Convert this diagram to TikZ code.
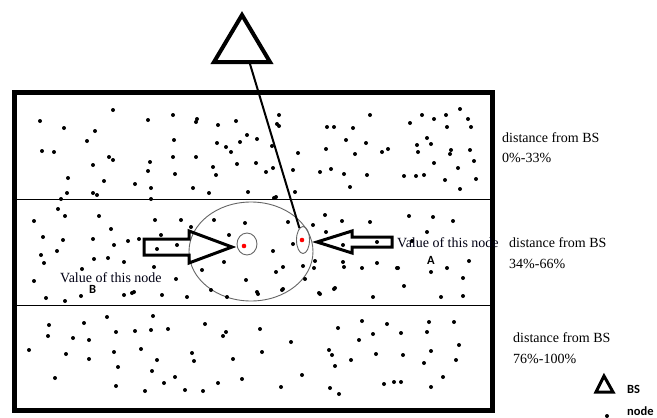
\documentclass[tikz,border=0pt]{standalone}
\usepackage{fontspec}
\setmainfont{Liberation Serif}
\newfontfamily\legendfont{Carlito}
\usetikzlibrary{shapes.geometric}
\begin{document}
\begin{tikzpicture}[x=1pt,y=-1pt,
  frame/.style={line width=5pt},
  bandline/.style={line width=0.9pt},
  bstri/.style={line width=4pt, line join=miter},
  blockarrow/.style={line width=3pt, line join=miter},
  ring/.style={draw=black!60, line width=0.9pt},
  rangelbl/.style={font=\fontsize{14}{16}\selectfont, anchor=base west, inner sep=0pt},
  vallbl/.style={font=\fontsize{14}{16}\selectfont, anchor=base west, inner sep=0pt, text=black!92!blue},
  smallbold/.style={font=\legendfont\bfseries\fontsize{12.5}{14}\selectfont, anchor=base west, inner sep=0pt},
  conn/.style={line width=2pt}
]
\useasboundingbox (0,0) rectangle (657,418);
\fill[white] (0,0) rectangle (657,418);

% field
\draw[frame] (14,92) rectangle (492,410);
\draw[bandline] (16,199) -- (490,199);
\draw[bandline] (16,305) -- (490,305);

% cluster
\draw[ring] (251,251.5) ellipse [x radius=62pt, y radius=49.5pt];
\draw[ring] (247,244) ellipse [x radius=10pt, y radius=11pt];
\node[ring, draw, ellipse, minimum width=13pt, minimum height=27pt, inner sep=0pt] (nodeA) at (303,240) {};

% block arrows
\draw[blockarrow] (144,239) -- (189,239) -- (189,231) -- (232,247) -- (189,263) -- (189,255) -- (144,255) -- cycle;
\draw[blockarrow] (317,242) -- (352,231) -- (352,237) -- (392,237) -- (392,247) -- (352,247) -- (352,253) -- cycle;

% base station
\coordinate (bsA) at (242,15);
\coordinate (bsL) at (214,62);
\coordinate (bsR) at (270,62);
\draw[bstri] (bsA) -- (bsL) -- (bsR) -- cycle;
\coordinate (bsFoot) at (250,64);
\draw[conn] (bsFoot) -- (nodeA);

% sensor nodes
\foreach \x/\y in {
40/121,113/110,64/128,95/131,148/120,173/115,197/119,196/122,218/125,236/121,247/135,87/141,174/140,217/143,240/142,42/151,54/152,226/147,231/152,109/157,113/160,150/162,173/157,196/157,93/165,237/164,213/167,148/171,175/174,216/175,68/178,104/181,135/184,151/188,193/188,209/193,248/192,67/193,93/193,97/195,61/199,151/199,276/197,
279/115,277/124,279/126,370/115,422/115,460/109,446/115,434/119,468/119,410/123,447/127,471/127,327/127,334/127,353/128,257/139,346/140,366/143,427/138,431/144,417/145,272/146,326/149,388/149,382/152,418/152,451/150,450/154,470/150,298/153,355/154,256/163,434/163,474/161,273/168,266/172,293/170,331/169,320/172,458/168,344/174,367/175,404/176,416/176,424/175,445/180,476/179,350/187,460/189,295/192,274/198,
58/209,65/216,34/221,99/216,155/220,181/220,111/229,191/227,214/220,245/223,43/237,63/240,93/239,128/241,139/239,161/235,114/245,157/249,177/245,229/235,57/251,41/255,94/259,108/258,124/262,44/263,224/262,202/270,154/267,82/269,34/281,176/279,246/280,46/298,65/301,81/296,124/295,132/293,162/295,187/297,211/290,227/297,
288/222,313/225,325/215,342/221,370/222,409/216,273/251,293/244,377/242,276/272,283/267,303/266,314/268,343/262,362/268,377/263,397/268,404/286,305/279,134/292,257/292,282/290,319/293,334/289,373/297,
433/217,453/221,326/232,427/232,412/241,343/245,315/261,344/267,398/268,447/268,469/261,463/278,431/272,283/289,335/288,320/294,258/294,441/297,463/296,
107/317,153/316,49/325,84/323,205/324,48/336,73/338,89/340,116/332,135/331,151/330,168/329,226/332,223/336,29/350,66/354,89/359,114/352,141/349,192/353,194/361,157/360,233/359,118/367,152/371,55/378,175/377,242/379,164/383,218/383,116/386,145/391,185/390,203/391,
260/329,338/328,362/321,387/324,373/334,401/333,429/322,427/332,454/322,291/342,359/340,459/345,262/352,329/350,332/355,376/354,403/355,431/351,351/360,456/360,335/366,424/363,302/375,443/377,281/387,330/388,339/394,384/384,394/382,401/382,431/387}
  \fill (\x,\y) circle (2pt);

% sensed values
\fill[red] (244,246) circle (2.3pt);
\fill[red] (302,240) circle (2.3pt);

% labels
\node[vallbl] (valB) at (60,282) {Value of this node};
\node[smallbold] (lblB) at (89,293) {B};
\node[vallbl] (valA) at (397,247) {Value of this node};
\node[smallbold] (lblA) at (427,264) {A};

\node[rangelbl] (d1a) at (502,142) {distance from BS};
\node[rangelbl] (d1b) at (502,162) {0\%-33\%};
\node[rangelbl] (d2a) at (509,247) {distance from BS};
\node[rangelbl] (d2b) at (509,268) {34\%-66\%};
\node[rangelbl] (d3a) at (513,342) {distance from BS};
\node[rangelbl] (d3b) at (513,363) {76\%-100\%};

% legend
\coordinate (lgA) at (604,376);
\coordinate (lgL) at (596,392);
\coordinate (lgR) at (613,392);
\draw[line width=3pt, line join=miter] (lgA) -- (lgL) -- (lgR) -- cycle;
\node[smallbold] (lgBS) at (627,393) {BS};
\node[smallbold] (lgNode) at (627,415) {node};
\fill (607,416) circle (2pt);
\end{tikzpicture}
\end{document}
